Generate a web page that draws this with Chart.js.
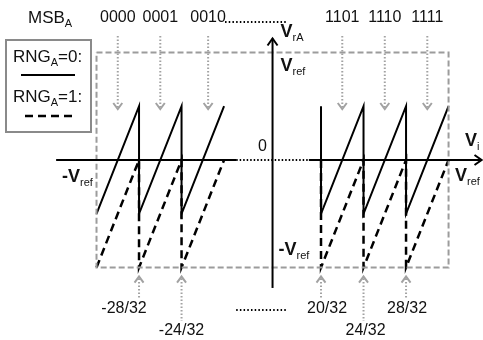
<!DOCTYPE html>
<html>
<head>
<meta charset="utf-8">
<script src="https://cdn.jsdelivr.net/npm/chart.js@4.4.1/dist/chart.umd.min.js"></script>
<style>
  html, body { margin: 0; padding: 0; background: #fff; }
  canvas { display: block; }
</style>
</head>
<body>
<canvas id="chart" width="483" height="340"></canvas>
<script>
// input codes are in 1/32 of Vref, outputs in units of Vref
const rng0Left = [
  { x: -32, y: -0.5 }, { x: -28, y: 0.5 }, { x: -28, y: -0.5 },
  { x: -24, y: 0.5 }, { x: -24, y: -0.5 }, { x: -20, y: 0.5 },
];
const rng0Right = [
  { x: 20, y: 0.5 }, { x: 20, y: -0.5 }, { x: 24, y: 0.5 }, { x: 24, y: -0.5 },
  { x: 28, y: 0.5 }, { x: 28, y: -0.5 }, { x: 32, y: 0.5 },
];
const rng1Left = [
  { x: -32, y: -1 }, { x: -28, y: 0 }, { x: -28, y: -1 },
  { x: -24, y: 0 }, { x: -24, y: -1 }, { x: -20, y: 0 },
];
const rng1Right = [
  { x: 20, y: 0 }, { x: 20, y: -1 }, { x: 24, y: 0 }, { x: 24, y: -1 },
  { x: 28, y: 0 }, { x: 28, y: -1 }, { x: 32, y: 0 },
];
const boxCorners = [
  { x: -32, y: 1 }, { x: 32, y: 1 }, { x: 32, y: -1 }, { x: -32, y: -1 }, { x: -32, y: 1 },
];

const msbCodes = ['0000', '0001', '0010', '1101', '1110', '1111'];
const msbAt = [-30, -26, -21.5, 22, 26, 30];
const tickLabels = ['-28/32', '-24/32', '20/32', '24/32', '28/32'];
const tickAt = [-28, -24, 20, 24, 28];

// the middle of the input axis is drawn squeezed (broken axis)
const HALF_GAP = 1.14;
function pos(v) {
  const a = Math.abs(v), s = Math.sign(v);
  if (a <= 20) return v / 20 * HALF_GAP;
  return s * (HALF_GAP + (a - 20) / 4);
}
const mapPts = pts => pts.map(p => ({ x: pos(p.x), y: p.y }));

const FONT = '"Liberation Sans", Arial, sans-serif';
const GREY = '#a2a2a2';

// draws main text + subscript, returns x where the subscript ends
function subText(ctx, main, sub, x, y, size, bold) {
  ctx.textAlign = 'left';
  ctx.textBaseline = 'middle';
  ctx.font = (bold ? 'bold ' : '') + size + 'px ' + FONT;
  ctx.fillText(main, x, y);
  const w = ctx.measureText(main).width;
  ctx.font = Math.round(size * 0.62) + 'px ' + FONT;
  ctx.fillText(sub, x + w, y + size * 0.33);
  return x + w + ctx.measureText(sub).width;
}

function line(ctx, x1, y1, x2, y2) {
  ctx.beginPath();
  ctx.moveTo(x1, y1);
  ctx.lineTo(x2, y2);
  ctx.stroke();
}

function chevron(ctx, x, y, dir, w, h) {
  // dir: 'up' | 'down' | 'right', (x,y) = tip
  ctx.beginPath();
  if (dir === 'down') { ctx.moveTo(x - w, y - h); ctx.lineTo(x, y); ctx.lineTo(x + w, y - h); }
  if (dir === 'up') { ctx.moveTo(x - w, y + h); ctx.lineTo(x, y); ctx.lineTo(x + w, y + h); }
  if (dir === 'right') { ctx.moveTo(x - h, y - w); ctx.lineTo(x, y); ctx.lineTo(x - h, y + w); }
  ctx.stroke();
}

const annotations = {
  id: 'annotations',
  afterDatasetsDraw(chart) {
    const ctx = chart.ctx;
    const X = v => chart.scales.x.getPixelForValue(pos(v));
    const Y = v => chart.scales.y.getPixelForValue(v);
    const x0 = X(0), y0 = Y(0);
    ctx.save();
    ctx.lineCap = 'butt';

    // axes
    ctx.strokeStyle = '#000';
    ctx.lineWidth = 2;
    ctx.setLineDash([]);
    line(ctx, X(-35.8), y0, X(-15), y0);
    line(ctx, X(15), y0, X(35.1), y0);
    chevron(ctx, X(35.1), y0, 'right', 5, 7);
    ctx.setLineDash([1.5, 2]);
    line(ctx, X(-15), y0, X(15), y0);
    ctx.setLineDash([]);
    line(ctx, x0, Y(-1.19), x0, Y(1.13));
    chevron(ctx, x0, Y(1.13), 'up', 5, 7);

    // dotted "..." runs
    ctx.setLineDash([1.5, 2.2]);
    line(ctx, X(-19.6), 22, X(6), 22);
    line(ctx, X(-15), 310, X(6), 310);

    // MSB code arrows
    ctx.fillStyle = '#111';
    msbAt.forEach((c, i) => {
      const x = X(c);
      ctx.strokeStyle = GREY;
      ctx.setLineDash([1.5, 2]);
      line(ctx, x, 36, x, 107);
      ctx.setLineDash([]);
      chevron(ctx, x, 109, 'down', 4.5, 6);
      ctx.font = '16px ' + FONT;
      ctx.textAlign = 'center';
      ctx.textBaseline = 'middle';
      ctx.fillText(msbCodes[i], x, 18);
    });

    // threshold arrows
    const rowY = [309, 331, 309, 331, 309];
    const dx = [-15, 0, 6, 2, 1];
    tickAt.forEach((c, i) => {
      const x = X(c);
      ctx.strokeStyle = GREY;
      ctx.setLineDash([]);
      chevron(ctx, x, Y(-1) + 9, 'up', 4.5, 6);
      ctx.setLineDash([1.5, 2]);
      line(ctx, x, Y(-1) + 11, x, rowY[i] - 10);
      ctx.font = '16px ' + FONT;
      ctx.textAlign = 'center';
      ctx.textBaseline = 'middle';
      ctx.fillText(tickLabels[i], x + dx[i], rowY[i]);
    });

    // axis texts
    ctx.fillStyle = '#111';
    subText(ctx, 'MSB', 'A', 28, 18, 17, false);
    subText(ctx, 'V', 'rA', x0 + 8, 32, 18, true);
    subText(ctx, 'V', 'ref', x0 + 8, Y(1) + 14, 18, true);
    subText(ctx, 'V', 'i', 465, y0 - 19, 18, true);
    subText(ctx, 'V', 'ref', 455, y0 + 16, 18, true);
    subText(ctx, '-V', 'ref', 62, y0 + 17, 18, true);
    subText(ctx, '-V', 'ref', x0 + 6, Y(-1) - 17, 18, true);
    ctx.font = '16px ' + FONT;
    ctx.textAlign = 'center';
    ctx.fillText('0', x0 - 10, y0 - 13);

    // legend box
    ctx.setLineDash([]);
    ctx.strokeStyle = '#8a8a8a';
    ctx.lineWidth = 2;
    ctx.strokeRect(6, 40, 85, 92);
    let ex = subText(ctx, 'RNG', 'A', 13, 57, 17, false);
    ctx.font = '17px ' + FONT;
    ctx.fillText('=0:', ex, 57);
    ex = subText(ctx, 'RNG', 'A', 13, 97, 17, false);
    ctx.font = '17px ' + FONT;
    ctx.fillText('=1:', ex, 97);
    ctx.strokeStyle = '#000';
    ctx.lineWidth = 2;
    line(ctx, 21, 75, 75, 75);
    ctx.lineWidth = 2.5;
    ctx.setLineDash([8, 5]);
    line(ctx, 25, 116, 76, 116);

    ctx.restore();
  },
};

const lineStyle = { showLine: true, pointRadius: 0, fill: false, clip: false, borderJoinStyle: 'miter' };

new Chart(document.getElementById('chart'), {
  type: 'scatter',
  data: {
    datasets: [
      { ...lineStyle, data: mapPts(boxCorners), borderColor: '#9c9c9c', borderWidth: 2, borderDash: [6, 3] },
      { ...lineStyle, data: mapPts(rng1Left), borderColor: '#000', borderWidth: 2.5, borderDash: [8, 5] },
      { ...lineStyle, data: mapPts(rng1Right), borderColor: '#000', borderWidth: 2.5, borderDash: [8, 5] },
      { ...lineStyle, data: mapPts(rng0Left), borderColor: '#000', borderWidth: 2 },
      { ...lineStyle, data: mapPts(rng0Right), borderColor: '#000', borderWidth: 2 },
    ],
  },
  options: {
    responsive: false,
    animation: false,
    layout: { padding: 0 },
    plugins: { legend: { display: false }, tooltip: { enabled: false } },
    scales: {
      x: { type: 'linear', display: false, min: -6.41, max: 4.95 },
      y: { type: 'linear', display: false, min: -1.674, max: 1.488 },
    },
  },
  plugins: [annotations],
});
</script>
</body>
</html>
